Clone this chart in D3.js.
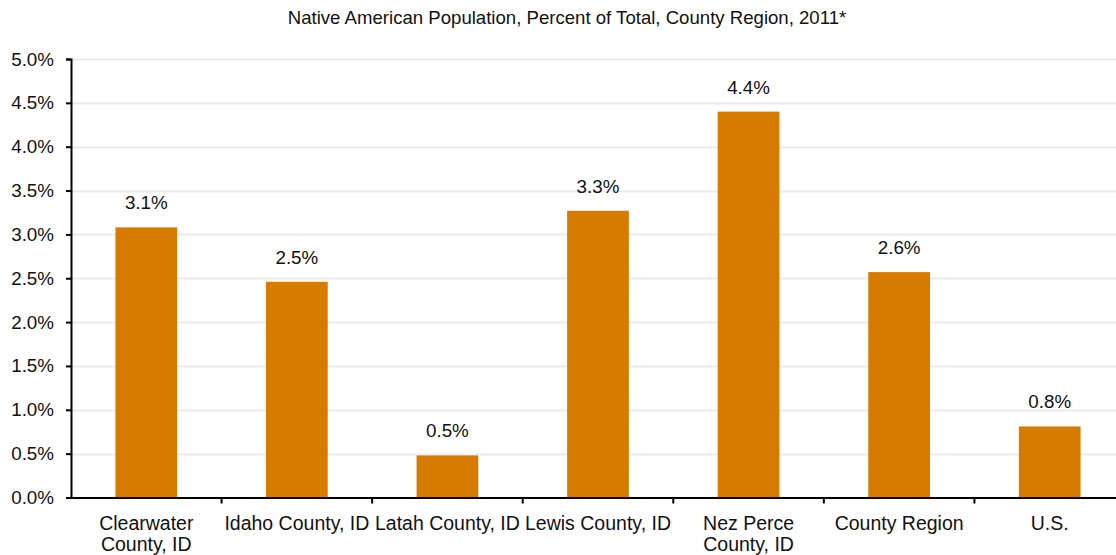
<!DOCTYPE html>
<html>
<head>
<meta charset="utf-8">
<script src="https://cdn.jsdelivr.net/npm/d3@7"></script>
<style>
  body { margin: 0; background: #fff; }
  text { font-family: "Liberation Sans", Arial, sans-serif; fill: #111; }
</style>
</head>
<body>
<svg id="chart"></svg>
<script>
// chart data
const categories = ['Clearwater County, ID', 'Idaho County, ID', 'Latah County, ID', 'Lewis County, ID',
    'Nez Perce County, ID', 'County Region', 'U.S.'];
const categoryLines = [['Clearwater', 'County, ID'], ['Idaho County, ID'], ['Latah County, ID'], ['Lewis County, ID'],
    ['Nez Perce', 'County, ID'], ['County Region'], ['U.S.']];
const values = [3.08, 2.46, 0.48, 3.27, 4.40, 2.57, 0.81];
const yTicks = [0, 0.5, 1, 1.5, 2, 2.5, 3, 3.5, 4, 4.5, 5];
const title = 'Native American Population, Percent of Total, County Region, 2011*';

const width = 1116, height = 555;
const margin = {top: 59, left: 71, bottom: 57};
const plotRight = 1125;

const svg = d3.select('#chart')
    .attr('width', width)
    .attr('height', height);

const yScale = d3.scaleLinear()
    .domain([0, 5])
    .range([height - margin.bottom - 0.5, margin.top]);

const xScale = d3.scaleBand()
    .domain(categories)
    .range([margin.left, plotRight])
    .paddingInner(0);

// gridlines
svg.append('g')
    .selectAll('line')
    .data(yTicks.filter(d => d > 0))
    .join('line')
    .attr('x1', margin.left)
    .attr('x2', width)
    .attr('y1', d => Math.round(yScale(d)) + 0.5)
    .attr('y2', d => Math.round(yScale(d)) + 0.5)
    .attr('stroke', '#ebebeb')
    .attr('stroke-width', 2);

// bars
const barW = xScale.bandwidth() * 0.41;
svg.append('g')
    .selectAll('rect')
    .data(values)
    .join('rect')
    .attr('x', (d, i) => xScale(categories[i]) + (xScale.bandwidth() - barW) / 2)
    .attr('width', barW)
    .attr('y', d => yScale(d))
    .attr('height', d => yScale(0) - yScale(d))
    .attr('fill', '#d67b00');

// value labels
svg.append('g')
    .selectAll('text')
    .data(values)
    .join('text')
    .attr('x', (d, i) => xScale(categories[i]) + xScale.bandwidth() / 2)
    .attr('y', d => yScale(d) - 18)
    .attr('text-anchor', 'middle')
    .style('font-size', '18.8px')
    .text(d => d.toFixed(1) + '%');

// y axis
const yAxis = d3.axisLeft(yScale)
    .tickValues(yTicks)
    .tickSize(5)
    .tickPadding(12)
    .tickFormat(d => d.toFixed(1) + '%');

svg.append('g')
    .attr('transform', `translate(${margin.left},0)`)
    .call(yAxis)
    .call(g => g.select('.domain').attr('stroke', '#000').attr('stroke-width', 2))
    .call(g => g.selectAll('.tick line').attr('stroke-width', 2))
    .call(g => g.selectAll('.tick text').style('font-size', '18.8px').attr('fill', '#111'));

// x axis
const xAxis = d3.axisBottom(xScale).tickSize(0).tickFormat('');
const xAxisG = svg.append('g')
    .attr('transform', `translate(0,${yScale(0)})`)
    .call(xAxis)
    .call(g => g.select('.domain').attr('stroke', '#000').attr('stroke-width', 2));

// tick marks between bands
xAxisG.selectAll('.sep')
    .data(categories.slice(1))
    .join('line')
    .attr('class', 'sep')
    .attr('x1', d => xScale(d))
    .attr('x2', d => xScale(d))
    .attr('y1', 0)
    .attr('y2', 6)
    .attr('stroke', '#000')
    .attr('stroke-width', 2);

// category labels
const catG = svg.append('g')
    .selectAll('text')
    .data(categories)
    .join('text')
    .attr('x', d => xScale(d) + xScale.bandwidth() / 2)
    .attr('y', 530)
    .attr('text-anchor', 'middle')
    .style('font-size', '19.5px');

catG.selectAll('tspan')
    .data((d, i) => categoryLines[i])
    .join('tspan')
    .attr('x', function () { return d3.select(this.parentNode).attr('x'); })
    .attr('dy', (d, i) => i === 0 ? 0 : 21)
    .text(d => d);

// title
svg.append('text')
    .attr('x', 567)
    .attr('y', 24)
    .attr('text-anchor', 'middle')
    .style('font-size', '18.6px')
    .text(title);
</script>
</body>
</html>
